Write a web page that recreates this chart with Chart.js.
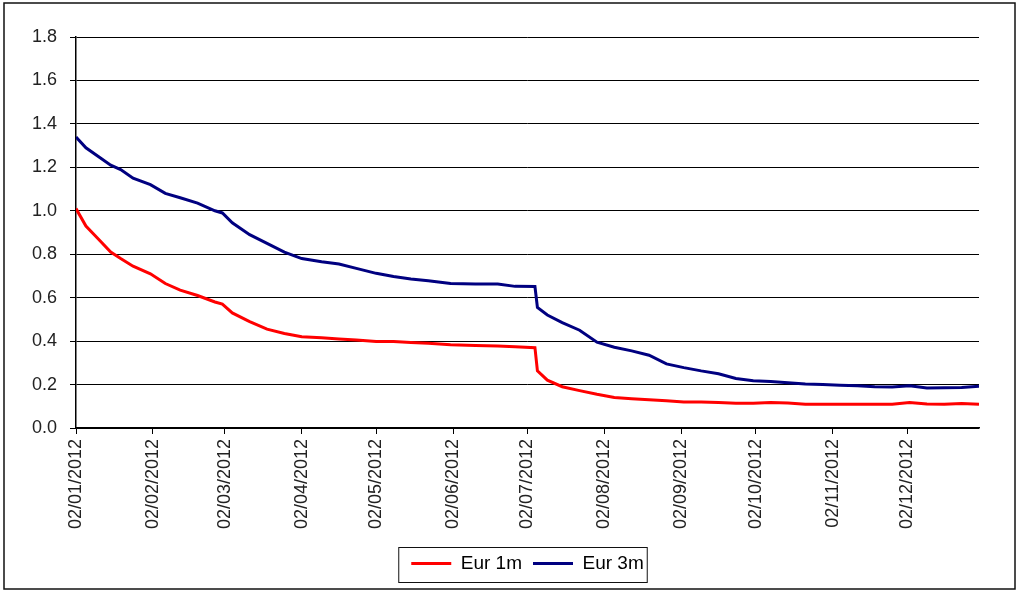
<!DOCTYPE html>
<html lang="en">
<head>
    <meta charset="UTF-8">
    <title>Euribor 2012</title>
    <script src="https://cdn.jsdelivr.net/npm/chart.js"></script>
    <style>
        html, body { margin: 0; padding: 0; background: #fff; }
        .grafico { position: relative; width: 1022px; height: 591px; }
    </style>
</head>
<body>
    <div class="grafico">
        <canvas id="myChart"></canvas>
    </div>
<script>
// datas (dd/mm/aaaa)
var datas = ['02/01/2012','06/01/2012','11/01/2012','16/01/2012','20/01/2012','25/01/2012',
  '01/02/2012','07/02/2012','13/02/2012','20/02/2012','27/02/2012','01/03/2012',
  '05/03/2012','12/03/2012','19/03/2012','26/03/2012','02/04/2012','10/04/2012',
  '17/04/2012','24/04/2012','02/05/2012','09/05/2012','16/05/2012','23/05/2012',
  '01/06/2012','11/06/2012','20/06/2012','27/06/2012','05/07/2012','06/07/2012',
  '10/07/2012','16/07/2012','23/07/2012','30/07/2012','06/08/2012','13/08/2012',
  '20/08/2012','27/08/2012','03/09/2012','10/09/2012','17/09/2012','24/09/2012',
  '01/10/2012','08/10/2012','15/10/2012','22/10/2012','29/10/2012','05/11/2012',
  '12/11/2012','19/11/2012','26/11/2012','03/12/2012','10/12/2012','17/12/2012',
  '24/12/2012','31/12/2012']

var eur1m = [1.01,0.93,0.87,0.81,0.78,0.745,
  0.71,0.665,0.635,0.61,0.58,0.57,
  0.53,0.49,0.455,0.435,0.42,0.415,
  0.41,0.405,0.398,0.398,0.394,0.39,
  0.383,0.38,0.378,0.374,0.37,0.263,
  0.22,0.19,0.172,0.155,0.14,0.135,
  0.13,0.125,0.12,0.12,0.117,0.114,
  0.114,0.117,0.115,0.109,0.109,0.109,
  0.109,0.109,0.109,0.117,0.11,0.109,
  0.113,0.109]

var eur3m = [1.34,1.29,1.25,1.21,1.19,1.15,
  1.12,1.08,1.06,1.035,1.0,0.99,
  0.945,0.89,0.85,0.81,0.78,0.765,
  0.755,0.735,0.712,0.697,0.686,0.678,
  0.665,0.663,0.663,0.652,0.651,0.555,
  0.52,0.485,0.45,0.395,0.372,0.355,
  0.335,0.295,0.278,0.263,0.25,0.228,
  0.218,0.214,0.208,0.203,0.2,0.197,
  0.194,0.19,0.189,0.194,0.184,0.185,
  0.186,0.192]

var meses = ['02/01/2012','02/02/2012','02/03/2012','02/04/2012','02/05/2012','02/06/2012',
  '02/07/2012','02/08/2012','02/09/2012','02/10/2012','02/11/2012','02/12/2012']

var yTicks = [0, 0.2, 0.4, 0.6, 0.8, 1.0, 1.2, 1.4, 1.6, 1.8]

function dia(txt){
  var p = txt.split('/')
  return (Date.UTC(+p[2], +p[1]-1, +p[0]) - Date.UTC(2012, 0, 2)) / 86400000
}

function pontos(valores){
  return datas.map((d, i) => ({x: dia(d), y: valores[i]}))
}

// moldura externa e caixa da legenda
const moldura = {
  id: 'moldura',
  beforeDraw(chart){
    const c = chart.ctx
    c.save()
    c.fillStyle = '#fff'
    c.fillRect(0, 0, chart.width, chart.height)
    c.restore()
  },
  afterDraw(chart){
    const c = chart.ctx
    c.save()
    c.strokeStyle = '#111'
    c.lineWidth = 1.5
    c.strokeRect(4, 3, 1011, 586)
    const hb = chart.legend.legendHitBoxes
    if(hb && hb.length){
      const ult = hb[hb.length-1]
      const meio = hb[0].top + hb[0].height/2
      const esq = hb[0].left - 13
      const dir = ult.left + ult.width + 3
      c.lineWidth = 1
      c.strokeRect(esq + 0.5, Math.round(meio - 17) + 0.5, dir - esq, 35)
    }
    c.restore()
  }
}

const ctx = document.getElementById('myChart')

const grafico = new Chart(ctx, {
  type: 'line',
  data: {
    datasets: [
      {
        label: 'Eur 1m',
        data: pontos(eur1m),
        borderColor: '#ff0000',
        backgroundColor: '#ff0000',
        borderWidth: 3,
        pointRadius: 0,
        tension: 0
      },
      {
        label: 'Eur 3m',
        data: pontos(eur3m),
        borderColor: '#000080',
        backgroundColor: '#000080',
        borderWidth: 3,
        pointRadius: 0,
        tension: 0
      }
    ]
  },
  options: {
    responsive: true,
    maintainAspectRatio: false,
    animation: false,
    layout: {
      padding: { top: 37, right: 43, left: 0, bottom: 8 }
    },
    plugins: {
      tooltip: { enabled: false },
      legend: {
        position: 'bottom',
        fullSize: false,
        labels: {
          boxWidth: 40,
          boxHeight: 3,
          padding: 11,
          color: '#000',
          font: { family: "'Liberation Sans', Arial, sans-serif", size: 19 },
          generateLabels(chart){
            const itens = Chart.defaults.plugins.legend.labels.generateLabels(chart)
            itens.forEach(it => { it.lineWidth = 0 })
            return itens
          }
        }
      }
    },
    scales: {
      x: {
        type: 'linear',
        min: 0,
        max: dia('31/12/2012'),
        afterBuildTicks(scale){
          scale.ticks = meses.map(m => ({value: dia(m)}))
        },
        afterFit(scale){
          scale.height = 115
        },
        ticks: {
          autoSkip: false,
          minRotation: 90,
          maxRotation: 90,
          padding: 5,
          color: '#222',
          font: { family: "'Liberation Sans', Arial, sans-serif", size: 18 },
          callback: (v, i) => meses[i]
        },
        grid: {
          drawOnChartArea: false,
          drawTicks: true,
          tickLength: 6,
          color: '#000'
        },
        border: { color: '#000', width: 1.5 }
      },
      y: {
        min: 0,
        max: 1.8,
        afterBuildTicks(scale){
          scale.ticks = yTicks.map(v => ({value: v}))
        },
        afterFit(scale){
          scale.width = 76
        },
        ticks: {
          padding: 13,
          color: '#222',
          font: { family: "'Liberation Sans', Arial, sans-serif", size: 18 },
          callback: v => v.toFixed(1)
        },
        grid: {
          color: '#000',
          lineWidth: 1,
          tickLength: 6
        },
        border: { color: '#000', width: 1.5 }
      }
    }
  },
  plugins: [moldura]
})
</script>
</body>
</html>
